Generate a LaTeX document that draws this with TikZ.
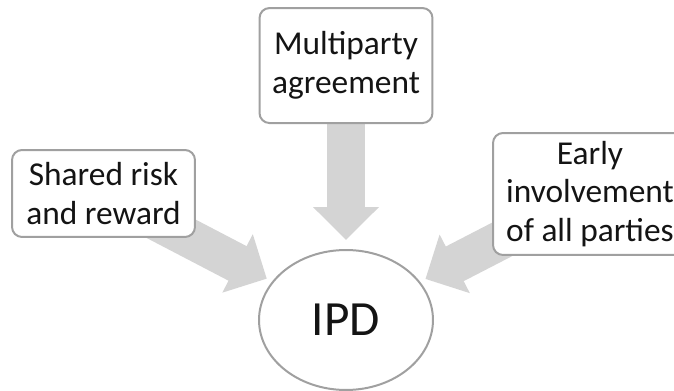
\documentclass[tikz,border=0pt]{standalone}
\usepackage{fontspec}
\setmainfont{Carlito}
\usetikzlibrary{positioning,arrows.meta,shapes.geometric,backgrounds}
\definecolor{framegray}{RGB}{160,160,160}
\definecolor{arrowgray}{RGB}{212,212,212}
\definecolor{textdark}{RGB}{20,20,20}

\begin{document}
\begin{tikzpicture}[
    x=0.02cm, y=-0.02cm,
    box/.style={rectangle, rounded corners=0.2cm, draw=framegray, line width=0.04cm, fill=white, font=\fontsize{19}{22}\selectfont, align=center, text=textdark, inner sep=0pt},
    hub/.style={ellipse, draw=framegray, line width=0.04cm, fill=white, minimum width=3.48cm, minimum height=2.8cm, font=\fontsize{28}{34}\selectfont, text=textdark, inner sep=0pt},
    bigarrow/.style={-{Triangle[length=0.66cm, width=1.28cm]}, line width=0.78cm, draw=arrowgray, shorten >=0.12cm}
]
    \clip (0,0) rectangle (674,391);

    \node[hub] (ipd) at (346,320) {IPD};
    \node[box, minimum width=3.46cm, minimum height=2.3cm, above=2.5cm of ipd] (multi) {Multiparty\\agreement};
    \node[box, minimum width=3.66cm, minimum height=1.74cm] (shared) at (103.5,193.5) {Shared risk\\and reward};
    \node[box, minimum width=3.88cm, minimum height=2.44cm] (early) at (590,194) {Early\\involvement\\of all parties};

    \begin{scope}[on background layer]
        \draw[bigarrow, shorten >=0.18cm] (multi.center) -- (ipd);
        \draw[bigarrow] (shared.center) -- (ipd);
        \draw[bigarrow] (early.center) -- (ipd);
    \end{scope}
\end{tikzpicture}
\end{document}
